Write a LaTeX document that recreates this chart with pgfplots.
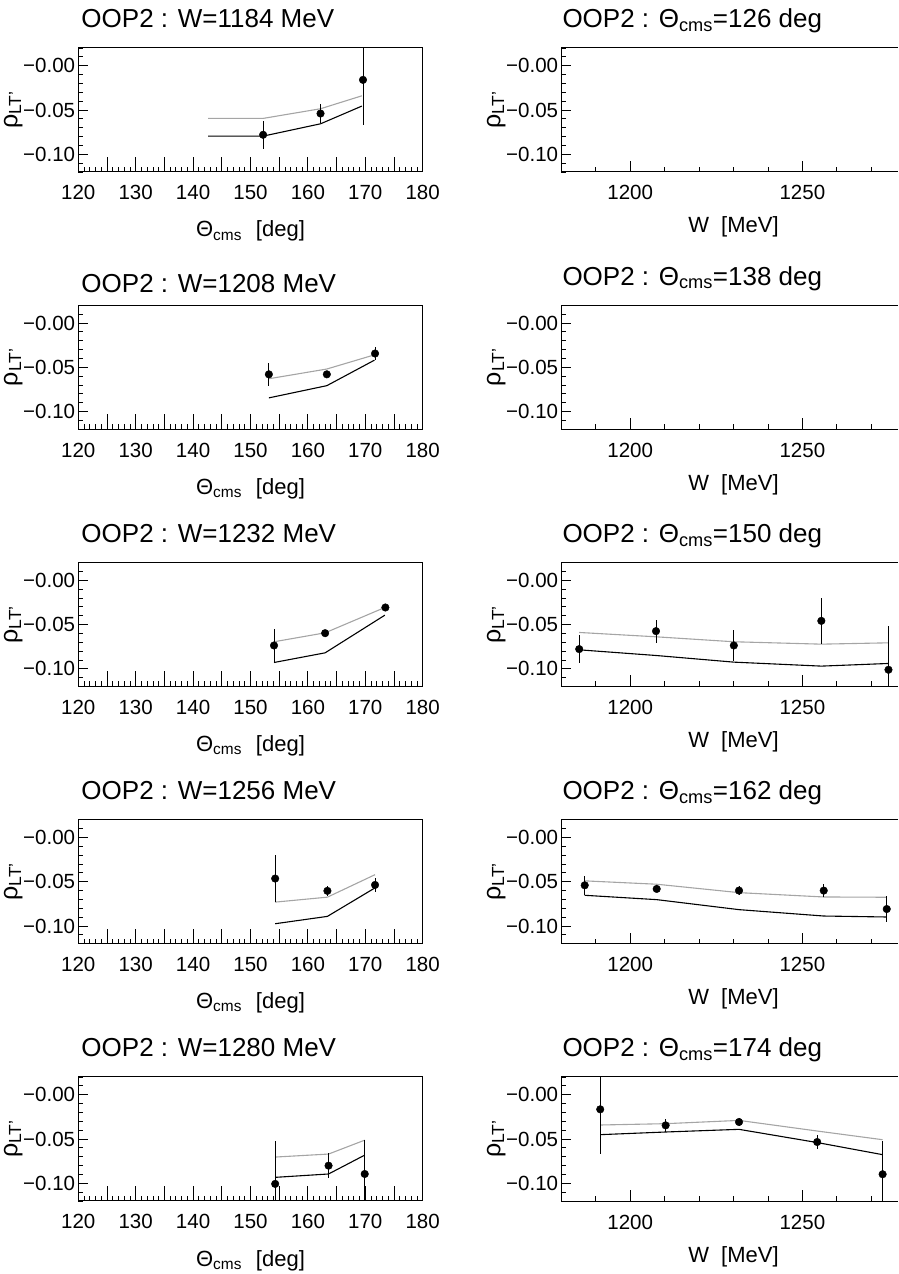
\documentclass[border=0pt]{standalone}
\usepackage{fontspec}
\setmainfont{Liberation Sans}
\usepackage{pgfplots}
\pgfplotsset{compat=1.18}
\definecolor{modelgray}{RGB}{165,165,165}

\pgfplotsset{
  base/.style={
    scale only axis, height=124pt, anchor=south west,
    /pgf/number format/assume math mode=true,
    /pgf/number format/1000 sep={},
    ymin=-0.12, ymax=0.02,
    ytick={-0.10,-0.05,0}, yticklabels={−0.10,−0.05,−0.00},
    minor ytick={-0.12,-0.11,-0.09,-0.08,-0.07,-0.06,-0.04,-0.03,-0.02,-0.01,0.01,0.02},
    extra y ticks={-0.05}, extra y tick labels={}, extra y tick style={major tick length=15pt},
    tick pos=left, tick align=inside,
    major tick length=11pt, minor tick length=5pt,
    xtick style={/pgfplots/major tick length=15pt},
    ytick style={/pgfplots/major tick length=10pt},
    tick style={black, line width=0.8pt},
    axis line style={black, line width=1pt},
    clip mode=individual,
    xticklabel style={font=\fontsize{20.5}{20.5}\selectfont, anchor=base, yshift=-28pt, inner sep=0pt},
    yticklabel style={font=\fontsize{20.5}{20.5}\selectfont, anchor=east, xshift=-3pt, inner sep=0pt},
    every axis y label/.style={at={([xshift=-61pt]axis description cs:0,0.5)}, anchor=base, rotate=90, inner sep=0pt, font=\fontsize{25}{25}\selectfont},
    ylabel={ρ\textsubscript{LT'}},
    every axis title/.style={at={(axis description cs:0,1)}, anchor=base west, yshift=20pt, xshift=3pt, inner sep=0pt, font=\fontsize{26}{26}\selectfont},
  },
  lpanel/.style={base, width=344.4pt,
    xmin=120, xmax=180, xtick={120,130,...,180}, minor x tick num=9,
    extra x ticks={125,135,145,155,165,175}, extra x tick labels={},
    extra x tick style={major tick length=10pt},
    every axis x label/.style={at={(axis description cs:0.5,0)}, anchor=base, yshift=-65pt, inner sep=0pt, font=\fontsize{22}{22}\selectfont},
    xlabel={Θ\textsubscript{cms}\hspace{14pt}[deg]},
  },
  rpanel/.style={base, width=336.7pt,
    axis lines*=left, tick align=inside,
    xmin=1180, xmax=1277.77, xtick={1200,1250},
    xtick style={/pgfplots/major tick length=11pt},
    minor xtick={1190,1210,1220,1230,1240,1260,1270},
    extra x ticks={1250}, extra x tick labels={},
    extra x tick style={major tick length=16pt},
    every axis x label/.style={at={([xshift=3.85pt]axis description cs:0.5,0)}, anchor=base, yshift=-61pt, inner sep=0pt, font=\fontsize{22}{22}\selectfont},
    xlabel={W\hspace{12pt}[MeV]},
    every axis title/.append style={xshift=-2pt},
    execute at end axis={\draw[black, line width=1pt] (rel axis cs:0,1) -- (rel axis cs:1,1);},
  },
  gline/.style={modelgray, line width=1.1pt},
  bline/.style={black, line width=1.1pt},
  dat/.style={only marks, mark=*, mark size=3.8pt, mark options={fill=black, draw=black},
    error bars/.cd, y dir=both, y explicit, error mark=none,
    error bar style={line width=0.9pt, black}},
}

\begin{document}
\begin{tikzpicture}
\path[use as bounding box] (0pt,0pt) rectangle (898pt,1274pt);

% ---------- left column ----------
\begin{axis}[lpanel, at={(78.3pt,1102pt)}, title={OOP2 : W=1184 MeV}]
\addplot[gline] coordinates {(142.6,-0.0595) (152.2,-0.0595) (162.2,-0.0486) (169.4,-0.034)};
\addplot[bline] coordinates {(142.6,-0.0795) (152.2,-0.0795) (162.2,-0.0656) (169.4,-0.0456)};
\addplot[dat] coordinates {(152.2,-0.078) +- (0,0.016) (162.2,-0.054) +- (0,0.011) (169.6,-0.016) +- (0,0.051)};
\end{axis}

\begin{axis}[lpanel, at={(78.3pt,844.75pt)}, title={OOP2 : W=1208 MeV}, every axis title/.append style={yshift=-7pt}]
\addplot[gline] coordinates {(153.2,-0.063) (163.3,-0.052) (171.6,-0.036)};
\addplot[bline] coordinates {(153.2,-0.0846) (163.3,-0.0708) (171.6,-0.042)};
\addplot[dat] coordinates {(153.2,-0.058) +- (0,0.013) (163.3,-0.058) +- (0,0.004) (171.7,-0.0345) +- (0,0.0075)};
\end{axis}

\begin{axis}[lpanel, at={(78.3pt,587.5pt)}, title={OOP2 : W=1232 MeV}]
\addplot[gline] coordinates {(154.1,-0.0695) (163.0,-0.0594) (173.4,-0.0308)};
\addplot[bline] coordinates {(154.1,-0.0929) (163.0,-0.082) (173.4,-0.0395)};
\addplot[dat] coordinates {(154.1,-0.0737) +- (0,0.019) (163.0,-0.0598) +- (0,0.004) (173.5,-0.0308) +- (0,0.003)};
\end{axis}

\begin{axis}[lpanel, at={(78.3pt,330.25pt)}, title={OOP2 : W=1256 MeV}]
\addplot[gline] coordinates {(154.3,-0.073) (163.4,-0.0674) (171.7,-0.042)};
\addplot[bline] coordinates {(154.3,-0.0974) (163.4,-0.0891) (171.7,-0.0569)};
\addplot[dat] coordinates {(154.3,-0.0464) +- (0,0.0265) (163.4,-0.0603) +- (0,0.006) (171.7,-0.0536) +- (0,0.008)};
\end{axis}

\begin{axis}[lpanel, at={(78.3pt,73pt)}, title={OOP2 : W=1280 MeV}]
\addplot[gline] coordinates {(154.3,-0.0704) (163.6,-0.067) (169.9,-0.0513)};
\addplot[bline] coordinates {(154.3,-0.0933) (163.6,-0.0895) (169.9,-0.0682)};
\addplot[dat] coordinates {(154.3,-0.1007) +- (0,0.049) (163.6,-0.0801) +- (0,0.014) (169.9,-0.0895) +- (0,0.038)};
\end{axis}

% ---------- right column ----------
\begin{axis}[rpanel, at={(561.3pt,1102pt)}, title={OOP2 : Θ\textsubscript{cms}=126 deg}]
\end{axis}

\begin{axis}[rpanel, at={(561.3pt,844.75pt)}, title={OOP2 : Θ\textsubscript{cms}=138 deg}]
\end{axis}

\begin{axis}[rpanel, at={(561.3pt,587.5pt)}, title={OOP2 : Θ\textsubscript{cms}=150 deg}]
\addplot[gline] coordinates {(1185.2,-0.059) (1207.5,-0.0639) (1230.1,-0.0695) (1255.5,-0.0722) (1275,-0.0707)};
\addplot[bline] coordinates {(1185.2,-0.0786) (1207.5,-0.085) (1230.1,-0.0925) (1255.5,-0.097) (1275,-0.094)};
\addplot[dat] coordinates {(1185.2,-0.0778) +- (0,0.016) (1207.5,-0.0575) +- (0,0.013) (1230.1,-0.0737) +- (0,0.018) (1255.5,-0.0459) +- (0,0.026) (1275,-0.1011) +- (0,0.049)};
\end{axis}

\begin{axis}[rpanel, at={(561.3pt,330.25pt)}, title={OOP2 : Θ\textsubscript{cms}=162 deg}]
\addplot[gline] coordinates {(1186.8,-0.049) (1207.7,-0.0528) (1231.6,-0.0623) (1256.2,-0.0672) (1274.5,-0.0675)};
\addplot[bline] coordinates {(1186.8,-0.0653) (1207.7,-0.0702) (1231.6,-0.0815) (1256.2,-0.0887) (1274.5,-0.0898)};
\addplot[dat] coordinates {(1186.8,-0.054) +- (0,0.011) (1207.7,-0.0581) +- (0,0.004) (1231.6,-0.060) +- (0,0.005) (1256.2,-0.060) +- (0,0.007) (1274.5,-0.0808) +- (0,0.015)};
\end{axis}

\begin{axis}[rpanel, at={(561.3pt,73pt)}, title={OOP2 : Θ\textsubscript{cms}=174 deg}]
\addplot[gline] coordinates {(1191.3,-0.0342) (1210.3,-0.0327) (1231.6,-0.029) (1254.3,-0.041) (1273.3,-0.0508)};
\addplot[bline] coordinates {(1191.3,-0.0451) (1210.3,-0.0421) (1231.6,-0.0391) (1254.3,-0.054) (1273.3,-0.0677)};
\addplot[dat] coordinates {(1191.3,-0.0165) +- (0,0.050) (1210.3,-0.0346) +- (0,0.0075) (1231.6,-0.0308) +- (0,0.004) (1254.3,-0.0534) +- (0,0.008) (1273.3,-0.0898) +- (0,0.038)};
\end{axis}

\end{tikzpicture}
\end{document}
